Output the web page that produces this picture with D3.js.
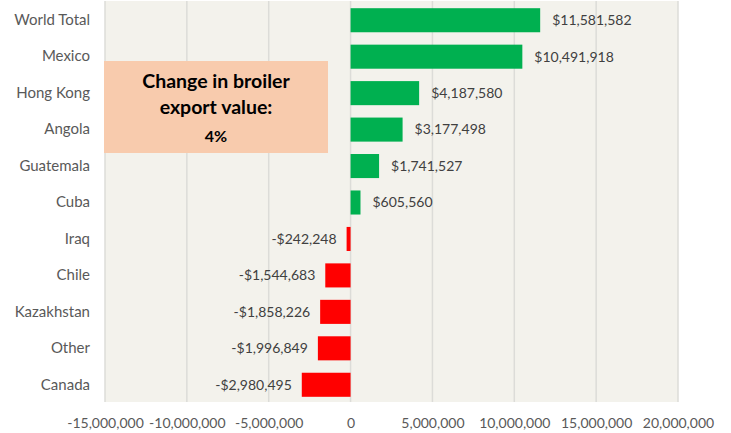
<!DOCTYPE html>
<html>
<head>
<meta charset="utf-8">
<script src="https://cdn.jsdelivr.net/npm/d3@7"></script>
<style>
  html, body { margin: 0; padding: 0; background: #ffffff; }
  svg { display: block; font-family: Lato, "Open Sans", sans-serif; }
</style>
</head>
<body>
<svg id="chart" width="731" height="433"></svg>
<script>
// Change in broiler export value by destination (USD)
const countries = ["World Total", "Mexico", "Hong Kong", "Angola", "Guatemala", "Cuba",
                   "Iraq", "Chile", "Kazakhstan", "Other", "Canada"];
const changes = [11581582, 10491918, 4187580, 3177498, 1741527, 605560,
                 -242248, -1544683, -1858226, -1996849, -2980495];
const tickValues = [-15000000, -10000000, -5000000, 0, 5000000, 10000000, 15000000, 20000000];
const boxLines = ["Change in broiler", "export value:"];
const boxPercent = "4%";

const svg = d3.select("#chart");
const plot = { left: 105, right: 678, top: 1, bottom: 402 };

// plain hyphen for negatives, as in the source spreadsheet
const locale = d3.formatLocale({ decimal: ".", thousands: ",", grouping: [3], currency: ["$", ""], minus: "-" });
const commas = locale.format(",");

const x = d3.scaleLinear().domain([-15000000, 20000000]).range([plot.left, plot.right]);
const y = d3.scaleBand().domain(countries).range([plot.top + 1, plot.bottom + 1]).paddingInner(0.34).paddingOuter(0.17);

const data = countries.map((c, i) => ({ country: c, value: changes[i] }));

// plot background
svg.append("rect")
  .attr("x", plot.left).attr("y", plot.top)
  .attr("width", plot.right - plot.left).attr("height", plot.bottom - plot.top)
  .attr("fill", "#f3f2ec");

// vertical gridlines
svg.append("g").selectAll("line").data(tickValues).join("line")
  .attr("x1", d => x(d)).attr("x2", d => x(d))
  .attr("y1", plot.top).attr("y2", plot.bottom)
  .attr("stroke", "#dcdcd8").attr("stroke-width", 1.5);

// bars
svg.append("g").selectAll("rect").data(data).join("rect")
  .attr("x", d => Math.min(x(0), x(d.value)))
  .attr("y", d => y(d.country))
  .attr("width", d => Math.abs(x(d.value) - x(0)))
  .attr("height", y.bandwidth())
  .attr("fill", d => d.value >= 0 ? "#00b050" : "#ff0000");

// value labels
const fmt = v => (v < 0 ? "-$" : "$") + commas(Math.abs(v));
svg.append("g").selectAll("text").data(data).join("text")
  .attr("x", d => d.value >= 0 ? x(d.value) + 12 : x(d.value) - 10)
  .attr("y", d => y(d.country) + y.bandwidth() / 2)
  .attr("dy", "0.35em")
  .attr("text-anchor", d => d.value >= 0 ? "start" : "end")
  .attr("font-size", 14)
  .attr("fill", "#404040")
  .text(d => fmt(d.value));

// category axis
const yAxis = svg.append("g")
  .attr("transform", `translate(${plot.left},0)`)
  .call(d3.axisLeft(y).tickSize(0).tickPadding(15));
yAxis.select(".domain").remove();
yAxis.selectAll("text")
  .attr("font-family", "Lato, 'Open Sans', sans-serif")
  .attr("font-size", 15).attr("fill", "#595959");

// value axis
const xAxis = svg.append("g")
  .attr("transform", `translate(0,${plot.bottom})`)
  .call(d3.axisBottom(x).tickValues(tickValues).tickSize(0).tickPadding(16).tickFormat(commas));
xAxis.select(".domain").remove();
xAxis.selectAll("text")
  .attr("font-family", "Lato, 'Open Sans', sans-serif")
  .attr("font-size", 14).attr("fill", "#595959");

// summary callout
const box = svg.append("g");
box.append("rect")
  .attr("x", 104).attr("y", 61).attr("width", 224).attr("height", 92)
  .attr("fill", "#f8cbad");
box.selectAll("text.line").data(boxLines).join("text")
  .attr("class", "line")
  .attr("x", 216).attr("y", (d, i) => 88 + i * 26)
  .attr("text-anchor", "middle")
  .attr("font-size", 19.5).attr("font-weight", "bold").attr("fill", "#000")
  .text(d => d);
box.append("text")
  .attr("x", 216).attr("y", 142)
  .attr("text-anchor", "middle")
  .attr("font-size", 16).attr("font-weight", "bold").attr("fill", "#000")
  .text(boxPercent);
</script>
</body>
</html>
